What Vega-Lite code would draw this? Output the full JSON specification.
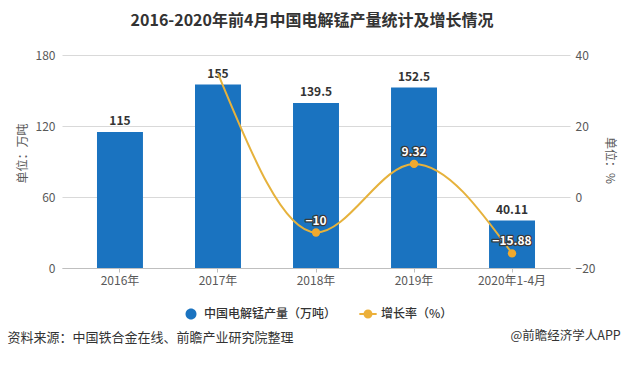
{
  "$schema": "https://vega.github.io/schema/vega-lite/v6.json",
  "width": 508,
  "height": 213,
  "autosize": {"type": "none"},
  "padding": {"left": 62, "top": 55, "right": 55, "bottom": 99},
  "background": "white",
  "title": {
    "text": "2016-2020年前4月中国电解锰产量统计及增长情况",
    "fontSize": 16,
    "fontWeight": "bold",
    "color": "#333333",
    "anchor": "middle",
    "frame": "group",
    "dx": -4,
    "offset": 20
  },
  "data": {
    "values": [
      {"year": "2016年", "output": 115, "growth": null},
      {"year": "2017年", "output": 155, "growth": 34.78},
      {"year": "2018年", "output": 139.5, "growth": -10},
      {"year": "2019年", "output": 152.5, "growth": 9.32},
      {"year": "2020年1-4月", "output": 40.11, "growth": -15.88}
    ]
  },
  "encoding": {
    "x": {
      "field": "year",
      "type": "nominal",
      "sort": null,
      "scale": {"domain": ["2016年", "2017年", "2018年", "2019年", "2020年1-4月"], "paddingInner": 0.531, "paddingOuter": 0.357},
      "axis": {
        "labelAngle": 0,
        "labelFontSize": 12,
        "labelColor": "#595959",
        "labelPadding": 3,
        "tickSize": 4,
        "tickColor": "#bfbfbf",
        "domainColor": "#bfbfbf",
        "grid": false,
        "title": "资料来源：中国铁合金在线、前瞻产业研究院整理",
        "titleX": -55,
        "titleY": 69,
        "titleAlign": "left",
        "titleBaseline": "middle",
        "titleAnchor": "start",
        "titleFontSize": 13,
        "titleFontWeight": "normal",
        "titleColor": "#333333"
      }
    }
  },
  "layer": [
    {
      "encoding": {
        "y": {
          "field": "output",
          "type": "quantitative",
          "scale": {"domain": [0, 180], "nice": false},
          "axis": {
            "values": [0, 60, 120, 180],
            "grid": true,
            "gridColor": "#d9d9d9",
            "domain": false,
            "ticks": false,
            "labelPadding": 7,
            "labelColor": "#595959",
            "labelFontSize": 12,
            "title": "单位：万吨",
            "titleColor": "#595959",
            "titleFontSize": 12,
            "titleFontWeight": "normal",
            "titleAngle": -90,
            "titleX": -40,
            "titleY": 98,
            "titleAlign": "center",
            "titleBaseline": "middle"
          }
        }
      },
      "layer": [
        {
          "mark": {"type": "bar"},
          "encoding": {
            "color": {
              "datum": "中国电解锰产量（万吨）",
              "scale": {"domain": ["中国电解锰产量（万吨）", "增长率（%）"], "range": ["#1a73c0", "#ecb03a"]},
              "legend": {
                "orient": "none",
                "legendX": 120,
                "legendY": 250,
                "direction": "horizontal",
                "title": null,
                "symbolSize": 300,
                "symbolStrokeWidth": 0,
                "labelFontSize": 12,
                "labelColor": "#333333",
                "labelFontWeight": 500,
                "labelOffset": 4,
                "columnPadding": 22,
                "labelLimit": 300,
                "encode": {
                  "symbols": {
                    "update": {
                      "shape": [
                        {"test": "datum.value === '增长率（%）'", "value": "M-1,-0.12H1V0.12H-1Z M0.52,0A0.52,0.52,0,1,1,-0.52,0A0.52,0.52,0,1,1,0.52,0Z"},
                        {"value": "M0.635,0A0.635,0.635,0,1,1,-0.635,0A0.635,0.635,0,1,1,0.635,0Z"}
                      ]
                    }
                  }
                }
              }
            }
          }
        },
        {
          "mark": {"type": "text", "dy": -11, "baseline": "middle", "fontSize": 12, "fontWeight": "bold", "fill": "#333333"},
          "encoding": {"text": {"field": "output", "type": "quantitative"}}
        }
      ]
    },
    {
      "transform": [{"filter": "datum.growth != null"}],
      "encoding": {
        "y": {
          "field": "growth",
          "type": "quantitative",
          "scale": {"domain": [-20, 40], "nice": false, "zero": false},
          "axis": {
            "orient": "right",
            "values": [-20, 0, 20, 40],
            "grid": false,
            "domain": false,
            "ticks": false,
            "labelPadding": 5,
            "labelColor": "#595959",
            "labelFontSize": 12,
            "title": "单位：%",
            "titleColor": "#595959",
            "titleFontSize": 12,
            "titleFontWeight": "normal",
            "titleAngle": 90,
            "titleX": 39,
            "titleY": 105,
            "titleAlign": "center",
            "titleBaseline": "middle"
          }
        }
      },
      "layer": [
        {
          "mark": {"type": "line", "interpolate": "monotone", "stroke": "#e6b23c", "strokeWidth": 2}
        },
        {
          "transform": [{"filter": "datum.year != '2017年'"}],
          "layer": [
            {
              "mark": {"type": "point", "filled": true, "fill": "#f0a92e", "opacity": 1, "size": 70},
              "encoding": {
                "shape": {
                  "datum": "@前瞻经济学人APP",
                  "scale": {"range": ["circle"]},
                  "legend": {
                    "orient": "none",
                    "legendX": 436,
                    "legendY": 275,
                    "title": null,
                    "symbolSize": 1,
                    "symbolOpacity": 0,
                    "symbolStrokeWidth": 0,
                    "labelOffset": 0,
                    "labelFontSize": 12.5,
                    "labelColor": "#333333",
                    "labelLimit": 300
                  }
                }
              }
            },
            {
              "mark": {"type": "text", "dy": -12, "baseline": "middle", "fontSize": 12, "fontWeight": "bold", "fill": "#3a3a3a", "stroke": "#3a3a3a", "strokeWidth": 2.5, "strokeJoin": "round"},
              "encoding": {"text": {"field": "growth", "type": "quantitative"}}
            },
            {
              "mark": {"type": "text", "dy": -12, "baseline": "middle", "fontSize": 12, "fontWeight": "bold", "fill": "#ffffff"},
              "encoding": {"text": {"field": "growth", "type": "quantitative"}}
            }
          ]
        }
      ]
    }
  ],
  "resolve": {"scale": {"y": "independent"}},
  "config": {
    "font": "Noto Sans CJK SC",
    "view": {"stroke": null},
    "axis": {"labelFont": "Noto Sans CJK SC", "titleFont": "Noto Sans CJK SC"},
    "legend": {"labelFont": "Noto Sans CJK SC"}
  }
}
